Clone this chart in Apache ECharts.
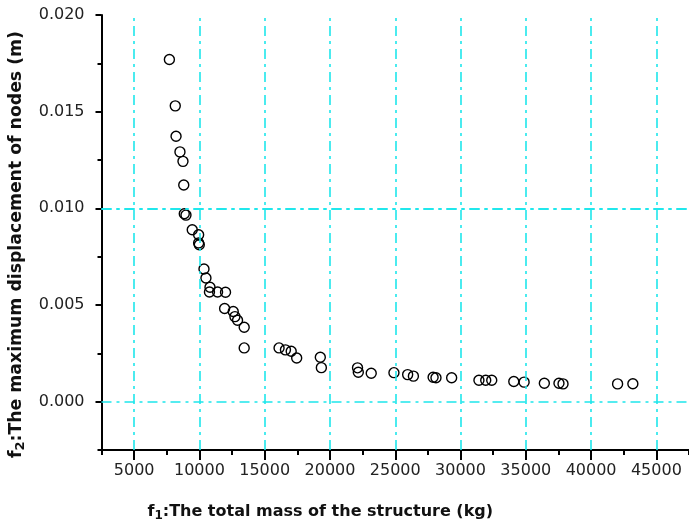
<!DOCTYPE html>
<html>
<head>
<meta charset="utf-8">
<script src="https://cdn.jsdelivr.net/npm/echarts@6/dist/echarts.min.js"></script>
<style>
  html, body { margin: 0; padding: 0; background: #fff; }
  #chart { width: 689px; height: 529px; }
</style>
</head>
<body>
<div id="chart"></div>
<script>
// Pareto front: total mass of the structure vs. maximum nodal displacement
const massKg = [
  7700, 8150, 8210, 8510, 8740, 8800, 8840, 8970, 9450, 9940,
  9940, 9990, 10350, 10500, 10810, 10770, 11390, 12000, 11930, 12590,
  12720, 12920, 13430, 13430, 16100, 16590, 17030, 17450, 19260, 19340,
  22110, 22170, 23160, 24900, 25950, 26390, 27900, 28120, 29320, 31410,
  31930, 32390, 34080, 34870, 36420, 37540, 37850, 42030, 43200
];
const displacementM = [
  0.01770, 0.01530, 0.01373, 0.01292, 0.01243, 0.01121, 0.00972, 0.00965, 0.00889, 0.00863,
  0.00821, 0.00812, 0.00686, 0.00640, 0.00592, 0.00567, 0.00567, 0.00566, 0.00482, 0.00466,
  0.00440, 0.00421, 0.00385, 0.00278, 0.00278, 0.00268, 0.00261, 0.00226, 0.00230, 0.00176,
  0.00175, 0.00152, 0.00147, 0.00150, 0.00140, 0.00132, 0.00126, 0.00124, 0.00124, 0.00111,
  0.00111, 0.00111, 0.00104, 0.00101, 0.00095, 0.00095, 0.00092, 0.00092, 0.00093
];

// Axis ticks (major ticks carry labels, minor ticks sit halfway between)
const xMajorTicks = [5000, 10000, 15000, 20000, 25000, 30000, 35000, 40000, 45000];
const yMajorTicks = [0, 0.005, 0.010, 0.015, 0.020];
const xGridLines = [5000, 10000, 15000, 20000, 25000, 30000, 35000, 40000, 45000];
const yGridLines = [0, 0.005, 0.010, 0.015];

const X_MIN = 2500, X_MAX = 47500, X_MINOR = 2500;
const Y_MIN = -0.0025, Y_MAX = 0.020, Y_MINOR = 0.0025;

const points = massKg.map((m, i) => [m, displacementM[i]]);

const tickFont = { fontFamily: 'DejaVu Sans', fontSize: 16, color: '#222' };
const xTitleFont = { fontFamily: 'DejaVu Sans', fontWeight: 'bold', fontSize: 16, color: '#111' };
const xSubFont = { fontFamily: 'DejaVu Sans', fontWeight: 'bold', fontSize: 12, color: '#111', verticalAlign: 'top', padding: [8, 0, 0, 0] };
const yTitleFont = { fontFamily: 'DejaVu Sans', fontWeight: 'bold', fontSize: 17.3, color: '#111' };
const ySubFont = { fontFamily: 'DejaVu Sans', fontWeight: 'bold', fontSize: 13, color: '#111', verticalAlign: 'top', padding: [9, 0, 0, 0] };

const chart = echarts.init(document.getElementById('chart'), null, { renderer: 'canvas' });

chart.setOption({
  animation: false,
  backgroundColor: '#ffffff',
  grid: { left: 101, right: 0, top: 15, bottom: 79, containLabel: false },
  xAxis: [
    {
      type: 'value', min: X_MIN, max: X_MAX,
      position: 'bottom',
      axisLine: { show: true, onZero: false, lineStyle: { color: '#000', width: 2 } },
      axisTick: { show: true, customValues: xMajorTicks, length: 10, lineStyle: { color: '#000', width: 2 } },
      axisLabel: { show: true, customValues: xMajorTicks, margin: 13, formatter: v => String(v), ...tickFont },
      splitLine: { show: false },
      name: '{m|f}{s|1}{m|:The total mass of the structure (kg)}',
      nameLocation: 'middle', nameGap: 52,
      nameTextStyle: { padding: [0, 150, 0, 0], rich: { m: xTitleFont, s: xSubFont } }
    },
    {
      type: 'value', min: X_MIN, max: X_MAX, interval: X_MINOR,
      position: 'bottom',
      axisLine: { show: false, onZero: false },
      axisTick: { show: true, length: 5, lineStyle: { color: '#000', width: 2 } },
      axisLabel: { show: false },
      splitLine: { show: false }
    }
  ],
  yAxis: [
    {
      type: 'value', min: Y_MIN, max: Y_MAX,
      position: 'left',
      axisLine: { show: true, onZero: false, lineStyle: { color: '#000', width: 2 } },
      axisTick: { show: true, customValues: yMajorTicks, length: 6, lineStyle: { color: '#000', width: 2 } },
      axisLabel: { show: true, customValues: yMajorTicks, margin: 17, formatter: v => v.toFixed(3), ...tickFont },
      splitLine: { show: false },
      name: '{m|f}{s|2}{m|:The maximum displacement of nodes (m)}',
      nameLocation: 'middle', nameGap: 74, nameRotate: 90,
      nameTextStyle: { padding: [0, 24, 0, 0], rich: { m: yTitleFont, s: ySubFont } }
    },
    {
      type: 'value', min: Y_MIN, max: Y_MAX, interval: Y_MINOR,
      position: 'left',
      axisLine: { show: false, onZero: false },
      axisTick: { show: true, length: 4, lineStyle: { color: '#000', width: 2 } },
      axisLabel: { show: false },
      splitLine: { show: false }
    }
  ],
  series: [
    {
      type: 'scatter',
      xAxisIndex: 0, yAxisIndex: 0,
      data: points,
      symbol: 'circle',
      symbolSize: 10,
      itemStyle: { color: 'rgba(0,0,0,0)', borderColor: '#000', borderWidth: 1.4, opacity: 1 },
      markLine: {
        silent: true,
        symbol: ['none', 'none'],
        label: { show: false },
        lineStyle: { color: '#1ee6ec', width: 1.6, type: [10, 5, 3, 5] },
        emphasis: { disabled: true },
        data: [
          ...xGridLines.map(v => ({ xAxis: v })),
          ...yGridLines.map(v => ({ yAxis: v }))
        ]
      }
    }
  ]
});
</script>
</body>
</html>
